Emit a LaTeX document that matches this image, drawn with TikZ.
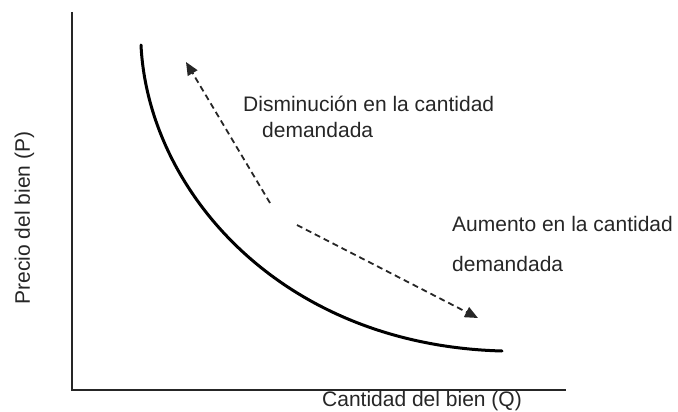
\documentclass[tikz,border=0pt]{standalone}
\usepackage{fontspec}
\setmainfont{Liberation Sans}
\usetikzlibrary{arrows.meta}
\begin{document}
\begin{tikzpicture}[x=1pt,y=-1pt,
  axisline/.style={line width=1.4pt,black!85},
  curveline/.style={line width=3pt,black,line cap=round},
  dasharrow/.style={line width=1.8pt,black!85,dash pattern=on 6pt off 4pt,-{Triangle[length=13pt,width=11pt]}},
  lbl/.style={font=\fontsize{21}{25}\selectfont,text=black!85,inner sep=0pt}]
\useasboundingbox (0,0) rectangle (678,412);
\coordinate (ytop) at (72,12);
\coordinate (orig) at (72,390);
\coordinate (xend) at (566,390);
\draw[axisline] (ytop) -- (orig) -- (xend);
\coordinate (cs) at (141,45);
\coordinate (ce) at (502,351);
\draw[curveline] (cs) .. controls (148,190) and (280,345) .. (ce);
\coordinate (a1s) at (270,203);
\coordinate (a1e) at (186,62);
\coordinate (a2s) at (297,225);
\coordinate (a2e) at (478,318);
\draw[dasharrow] (a1s) -- (a1e);
\draw[dasharrow] (a2s) -- (a2e);
\node[lbl,anchor=base west] (t1a) at (243,112) {Disminución en la cantidad};
\node[lbl,anchor=base west] (t1b) at (262,138) {demandada};
\node[lbl,anchor=base west] (t2a) at (452,231) {Aumento en la cantidad};
\node[lbl,anchor=base west] (t2b) at (452,271) {demandada};
\node[lbl,anchor=base west] (xl) at (322,406) {Cantidad del bien (Q)};
\node[lbl,anchor=base,rotate=90] (yl) at (30,218) {Precio del bien (P)};
\end{tikzpicture}
\end{document}
